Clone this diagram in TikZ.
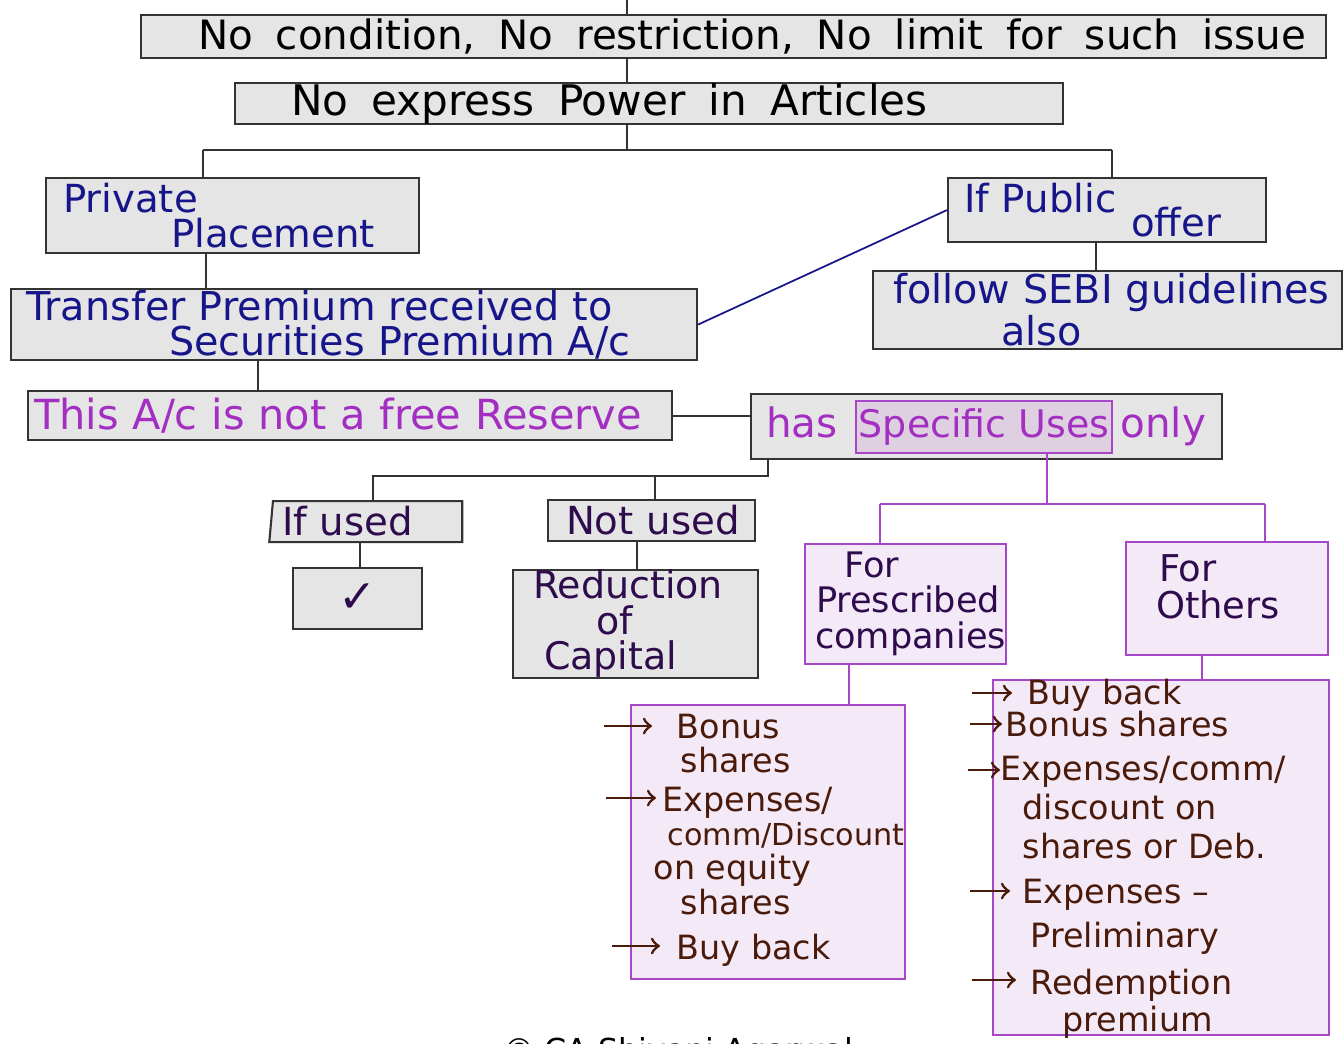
\documentclass[tikz,border=0pt]{standalone}
\usepackage{fontspec}
\setmainfont{DejaVu Sans}
\usetikzlibrary{shapes.geometric,arrows}
\definecolor{inkblue}{HTML}{16168A}
\definecolor{inkpurple}{HTML}{A22EC2}
\definecolor{inkplum}{HTML}{2E0B4C}
\definecolor{inkbrown}{HTML}{4A1B0B}
\definecolor{boxpurple}{HTML}{A846C8}
\definecolor{boxlilac}{HTML}{F4E9F6}
\definecolor{boxmauve}{HTML}{DED0E0}

\begin{document}
\begin{tikzpicture}[x=0.1mm,y=-0.1mm,
    gbox/.style={draw=black!80,fill=black!10,line width=0.6pt,inner sep=0pt,align=left,anchor=north west},
    pbox/.style={draw=boxpurple,fill=boxlilac,line width=0.6pt,inner sep=0pt,align=left,anchor=north west},
    boxsize/.style 2 args={text width=#1,minimum height=#2},
    hand/.style={font=\fontsize{#1}{9.8}\selectfont},
    item/.style={text=inkbrown,inner sep=0pt,align=left,anchor=north west,hand=9.5},
    link/.style={black!80,line width=0.6pt},
    plink/.style={boxpurple,line width=0.6pt},
    harrow/.style={->,inkbrown,line width=0.8pt}]

    \useasboundingbox (0,0) rectangle (1343,1044);

    % Kotak atas
    \node[gbox,boxsize={118.5mm}{4.3mm},hand=11.5] (cond) at (140,14)
        {\hspace*{5.7mm}\spaceskip=6.5pt No condition, No restriction, No limit for such issue};
    \node[gbox,boxsize={82.8mm}{3.9mm},hand=12] (express) at (234,82)
        {\hspace*{5.6mm}\spaceskip=6.6pt No express Power in Articles};

    % Cabang biru
    \node[gbox,boxsize={37.3mm}{7.5mm},hand=11,text=inkblue] (priv) at (45,177)
        {\hspace*{1.7mm}Private\\\hspace*{12.5mm}Placement};
    \node[gbox,boxsize={68.6mm}{7.1mm},hand=11.3,text=inkblue] (transfer) at (10,288)
        {\hspace*{1.5mm}Transfer Premium received to\\\hspace*{15.8mm}Securities Premium A/c};
    \node[gbox,boxsize={31.8mm}{6.4mm},hand=11,text=inkblue] (public) at (947,177)
        {\hspace*{1.6mm}If Public\\[-1mm]\hspace*{18.3mm}offer};
    \node[gbox,boxsize={46.9mm}{7.8mm},hand=11.3,text=inkblue] (sebi) at (872,270)
        {\hspace*{2mm}follow SEBI guidelines\\\hspace*{12.8mm}also};

    % Cabang ungu
    \node[gbox,boxsize={64.4mm}{4.9mm},hand=11.8,text=inkpurple] (free) at (27,390)
        {\hspace*{0.6mm}This A/c is not a free Reserve};
    \node[gbox,boxsize={47.1mm}{6.5mm},hand=11.5,text=inkpurple] (uses) at (750,393)
        {\hspace*{1.5mm}has\hskip0pt plus1fill only\hspace*{1.6mm}};
    \node[pbox,fill=boxmauve,minimum width=25.6mm,minimum height=5.2mm,hand=10.8,text=inkpurple] (spec) at (855,400)
        {Specific Uses};

    % Dipakai atau tidak
    \node[gbox,trapezium,trapezium left angle=83,trapezium right angle=90,trapezium stretches body,
        minimum width=19.3mm,minimum height=4.1mm,anchor=top left corner,hand=11,text=inkplum] (ifused) at (272,500)
        {If used\hspace*{4mm}};
    \node[gbox,minimum width=12.9mm,minimum height=6.1mm,hand=13,text=inkplum] (check) at (292,567) {✓};
    \node[gbox,boxsize={20.7mm}{4.1mm},hand=11,text=inkplum] (notused) at (547,499)
        {\hspace*{1.8mm}Not used};
    \node[gbox,boxsize={24.5mm}{10mm},hand=10.8,text=inkplum] (reduction) at (512,569)
        {\hspace*{2mm}Reduction\\[0.1mm]\hspace*{8.3mm}of\\[0.1mm]\hspace*{3.1mm}Capital};

    % Kegunaan khusus
    \node[pbox,boxsize={20.1mm}{12mm},hand=10,text=inkplum] (presc) at (804,543)
        {\hspace*{3.9mm}For\\\hspace*{1.1mm}Prescribed\\[0.2mm]\hspace*{1mm}companies};
    \node[pbox,boxsize={20.2mm}{11.3mm},hand=10.5,text=inkplum] (others) at (1125,541)
        {\hspace*{3.3mm}For\\[0.3mm]\hspace*{3mm}Others\\[-1mm]\mbox{}};
    \node[pbox,minimum width=27.4mm,minimum height=27.4mm] (lbox) at (630,704) {};
    \node[pbox,minimum width=33.6mm,minimum height=35.5mm] (rbox) at (992,679) {};

    % Daftar kiri
    \node[item] (lb1) at (676,713) {Bonus\\\hspace*{0.4mm}shares};
    \node[item] (lb2) at (662,786) {Expenses/\\\hspace*{0.5mm}{\fontsize{8.6}{9.8}\selectfont comm/Discount}\\\hspace*{-0.9mm}on equity\\\hspace*{1.8mm}shares};
    \node[item] (lb3) at (676,933) {Buy back};

    % Daftar kanan
    \node[item] (rb1) at (1027,678) {Buy back};
    \node[item] (rb2) at (1005,710) {Bonus shares};
    \node[item] (rb3) at (1000,755) {Expenses/comm/\\[0.5mm]\hspace*{2.2mm}discount on\\[0.5mm]\hspace*{2.2mm}shares or Deb.};
    \node[item] (rb4) at (1022,878) {Expenses –\\[1mm]\hspace*{0.8mm}Preliminary};
    \node[item] (rb5) at (1030,968) {Redemption\\[0.3mm]\hspace*{3.2mm}premium};

    % Panah daftar
    \foreach \xa/\xb/\ya in {604/652/726, 606/656/798, 612/660/946,
        972/1012/693, 970/1002/724, 968/1000/770, 970/1010/891, 972/1016/980}
        \draw[harrow] (\xa,\ya) -- (\xb,\ya);

    % Garis penghubung
    \coordinate (top) at (627,0);
    \coordinate (j1) at (627,150);
    \coordinate (j1l) at (203,150);
    \coordinate (j1r) at (1112,150);
    \draw[link] (top) -- (top |- cond.north);
    \draw[link] (cond.south -| top) -- (express.north -| top);
    \draw[link] (express.south -| j1) -- (j1);
    \draw[link] (j1l) -- (j1r);
    \draw[link] (j1l) -- (j1l |- priv.north);
    \draw[link] (j1r) -- (j1r |- public.north);

    \coordinate (k1) at (206,270);
    \coordinate (k2) at (1096,255);
    \coordinate (k3) at (258,375);
    \draw[link] (priv.south -| k1) -- (transfer.north -| k1);
    \draw[link] (public.south -| k2) -- (sebi.north -| k2);
    \draw[link] (transfer.south -| k3) -- (free.north -| k3);
    \draw[inkblue,line width=0.5pt] (transfer.east) -- (public.west);
    \draw[link] (free.east) -- (free.east -| uses.west);

    \coordinate (j2) at (768,476);
    \coordinate (j2l) at (373,476);
    \coordinate (j2m) at (655,476);
    \draw[link] (uses.south -| j2) -- (j2) -- (j2l) -- (j2l |- ifused.north);
    \draw[link] (j2m) -- (j2m |- notused.north);

    \coordinate (k4) at (360,555);
    \coordinate (k5) at (637,555);
    \draw[link] (ifused.south -| k4) -- (check.north -| k4);
    \draw[link] (notused.south -| k5) -- (reduction.north -| k5);

    \coordinate (j3) at (1047,504);
    \coordinate (j3l) at (880,504);
    \coordinate (j3r) at (1265,504);
    \draw[plink] (spec.south -| j3) -- (j3);
    \draw[plink] (j3l) -- (j3r);
    \draw[plink] (j3l) -- (j3l |- presc.north);
    \draw[plink] (j3r) -- (j3r |- others.north);

    \coordinate (k6) at (849,690);
    \coordinate (k7) at (1202,670);
    \draw[plink] (presc.south -| k6) -- (lbox.north -| k6);
    \draw[plink] (others.south -| k7) -- (rbox.north -| k7);

    % Hak cipta
    \node[font=\fontsize{9}{10}\selectfont,anchor=base] (copyright) at (678,1061) {© CA Shivani Agarwal};

\end{tikzpicture}
\end{document}
